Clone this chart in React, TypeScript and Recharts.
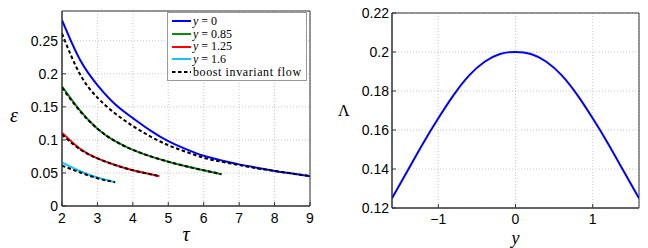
import React from 'react';
import { LineChart, Line, XAxis, YAxis, CartesianGrid, Legend, Label, ReferenceArea } from 'recharts';

// left panel: energy density vs proper time
const tauAll = [2, 2.5, 3, 3.5, 4, 4.5, 5, 5.5, 6, 6.5, 7, 7.5, 8, 8.5, 9];
const epsY0 = [0.281, 0.222, 0.183, 0.154, 0.133, 0.114, 0.098, 0.086, 0.076, 0.069, 0.063, 0.058, 0.053, 0.049, 0.045];
const boostY0 = [0.261, 0.200, 0.164, 0.140, 0.121, 0.105, 0.092, 0.082, 0.073, 0.067, 0.062, 0.057, 0.053, 0.049, 0.0455];

const tauY085 = [2, 2.5, 3, 3.5, 4, 4.5, 5, 5.5, 6, 6.5];
const epsY085 = [0.181, 0.145, 0.117, 0.098, 0.085, 0.075, 0.067, 0.060, 0.054, 0.048];
const boostY085 = [0.179, 0.144, 0.117, 0.098, 0.085, 0.075, 0.067, 0.060, 0.054, 0.048];

const tauY125 = [2, 2.5, 3, 3.5, 4, 4.5, 4.75];
const epsY125 = [0.111, 0.087, 0.072, 0.062, 0.054, 0.048, 0.045];
const boostY125 = [0.108, 0.086, 0.072, 0.062, 0.054, 0.048, 0.045];

const tauY16 = [2, 2.5, 3, 3.5];
const epsY16 = [0.066, 0.053, 0.043, 0.036];
const boostY16 = [0.061, 0.051, 0.042, 0.036];

const tauTicks = [2, 3, 4, 5, 6, 7, 8, 9];
const epsTicks = [0, 0.05, 0.1, 0.15, 0.2, 0.25];

// right panel: Lambda vs rapidity
const rapidity = [-1.6, -1.4, -1.2, -1.0, -0.8, -0.6, -0.4, -0.2, 0, 0.2, 0.4, 0.6, 0.8, 1.0, 1.2, 1.4, 1.6];
const lambda = [0.125, 0.139, 0.153, 0.166, 0.178, 0.188, 0.195, 0.199, 0.200, 0.199, 0.195, 0.188, 0.178, 0.166, 0.153, 0.139, 0.125];
const rapidityTicks = [-1, 0, 1];
const lambdaTicks = [0.12, 0.14, 0.16, 0.18, 0.2, 0.22];

const legendItems = [
  { label: '0', color: '#0000ff', dashed: false },
  { label: '0.85', color: '#0b8a0b', dashed: false },
  { label: '1.25', color: '#ff0000', dashed: false },
  { label: '1.6', color: '#19c3f5', dashed: false },
  { label: 'boost invariant flow', color: '#000000', dashed: true },
];

const zip = (xs: number[], ys: number[]) => xs.map((t, i) => ({ t, e: ys[i] }));

const font = '"Liberation Sans", Arial, sans-serif';
const serif = '"Liberation Serif", "DejaVu Serif", serif';
const tickStyle = { fontSize: 14, fill: '#000', fontFamily: font };
const gridStroke = '#c8c8c8';

const EpsLegend = () => (
  <div style={{ background: '#fff', border: '1px solid #999', padding: '2px 4px 1px 4px', width: 130, fontFamily: serif, fontSize: 12, lineHeight: '12.7px' }}>
    {legendItems.map((it) => (
      <div key={it.label} style={{ display: 'flex', alignItems: 'center', whiteSpace: 'nowrap' }}>
        <svg width={19} height={8} style={{ marginRight: 2 }}>
          <line x1={0} y1={4} x2={19} y2={4} stroke={it.color} strokeWidth={2} strokeDasharray={it.dashed ? '3.5 2.5' : undefined} />
        </svg>
        {it.dashed ? (
          <span style={{ letterSpacing: 0.6 }}>{it.label}</span>
        ) : (
          <span><i>y</i> = {it.label}</span>
        )}
      </div>
    ))}
  </div>
);

const solid = (data: { t: number; e: number }[], color: string, key: string) => (
  <Line key={key} data={data} dataKey="e" type="natural" stroke={color} strokeWidth={2} dot={false} isAnimationActive={false} />
);
const dashed = (data: { t: number; e: number }[], key: string) => (
  <Line key={key} data={data} dataKey="e" type="natural" stroke="#000" strokeWidth={2} strokeDasharray="3.5 2.5" dot={false} isAnimationActive={false} />
);

const EpsTitle = ({ viewBox }: any) => (
  <text x={14} y={viewBox.y + viewBox.height / 2 + 6} textAnchor="middle" dominantBaseline="central"
    style={{ fontFamily: serif, fontStyle: 'italic', fontSize: 20, fill: '#000' }}>ε</text>
);

const EnergyChart = () => (
  <LineChart width={324} height={248} margin={{ top: 11, right: 14, bottom: 12, left: 0 }}>
    <CartesianGrid stroke={gridStroke} strokeDasharray="1 2" />
    <XAxis dataKey="t" type="number" domain={[2, 9]} ticks={tauTicks} tick={tickStyle} height={30} allowDataOverflow
      stroke="#333" tickSize={-4} tickMargin={11}>
      <Label value="τ" position="insideBottom" offset={-5} style={{ fontFamily: serif, fontStyle: 'italic', fontSize: 20, fill: '#000' }} />
    </XAxis>
    <YAxis type="number" domain={[0, 0.295]} ticks={epsTicks} tick={tickStyle} width={62} allowDataOverflow
      stroke="#333" tickSize={-4} tickMargin={8}>
      <Label content={EpsTitle} />
    </YAxis>
    <ReferenceArea x1={2} x2={9} y1={0} y2={0.295} fill="none" stroke="#333" strokeWidth={1} />
    {solid(zip(tauAll, epsY0), legendItems[0].color, 's0')}
    {solid(zip(tauY085, epsY085), legendItems[1].color, 's1')}
    {solid(zip(tauY125, epsY125), legendItems[2].color, 's2')}
    {solid(zip(tauY16, epsY16), legendItems[3].color, 's3')}
    {dashed(zip(tauAll, boostY0), 'b0')}
    {dashed(zip(tauY085, boostY085), 'b1')}
    {dashed(zip(tauY125, boostY125), 'b2')}
    {dashed(zip(tauY16, boostY16), 'b3')}
    <Legend layout="vertical" align="center" verticalAlign="middle" content={() => <EpsLegend />}
      wrapperStyle={{ left: 167, top: 12, width: 140 }} />
  </LineChart>
);

const lambdaData = rapidity.map((y, i) => ({ y, l: lambda[i] }));
const fmtRap = (v: number) => (v < 0 ? '\u2212' + Math.abs(v) : String(v));

const LambdaChart = () => (
  <LineChart width={324} height={248} data={lambdaData} margin={{ top: 13, right: 9, bottom: 12, left: 0 }}>
    <CartesianGrid stroke={gridStroke} strokeDasharray="1 2" />
    <XAxis dataKey="y" type="number" domain={[-1.6, 1.6]} ticks={rapidityTicks} tickFormatter={fmtRap} tick={tickStyle} height={28}
      allowDataOverflow stroke="#333" tickSize={-4} tickMargin={10}>
      <Label value="y" position="insideBottom" offset={-8} style={{ fontFamily: serif, fontStyle: 'italic', fontSize: 18, fill: '#000' }} />
    </XAxis>
    <YAxis type="number" domain={[0.12, 0.22]} ticks={lambdaTicks} tick={tickStyle} width={68} allowDataOverflow
      stroke="#333" tickSize={-4} tickMargin={7}>
      <Label value="Λ" position="insideLeft" offset={14} style={{ fontFamily: serif, fontSize: 16, fill: '#000' }} />
    </YAxis>
    <ReferenceArea x1={-1.6} x2={1.6} y1={0.12} y2={0.22} fill="none" stroke="#333" strokeWidth={1} />
    <Line dataKey="l" type="natural" stroke="#0000ff" strokeWidth={2} dot={false} isAnimationActive={false} />
  </LineChart>
);

export default function App() {
  return (
    <div style={{ position: 'absolute', left: 0, top: 0, width: 648, height: 248, background: '#fff' }}>
      <div style={{ position: 'absolute', left: 0, top: 0 }}><EnergyChart /></div>
      <div style={{ position: 'absolute', left: 324, top: 0 }}><LambdaChart /></div>
    </div>
  );
}
